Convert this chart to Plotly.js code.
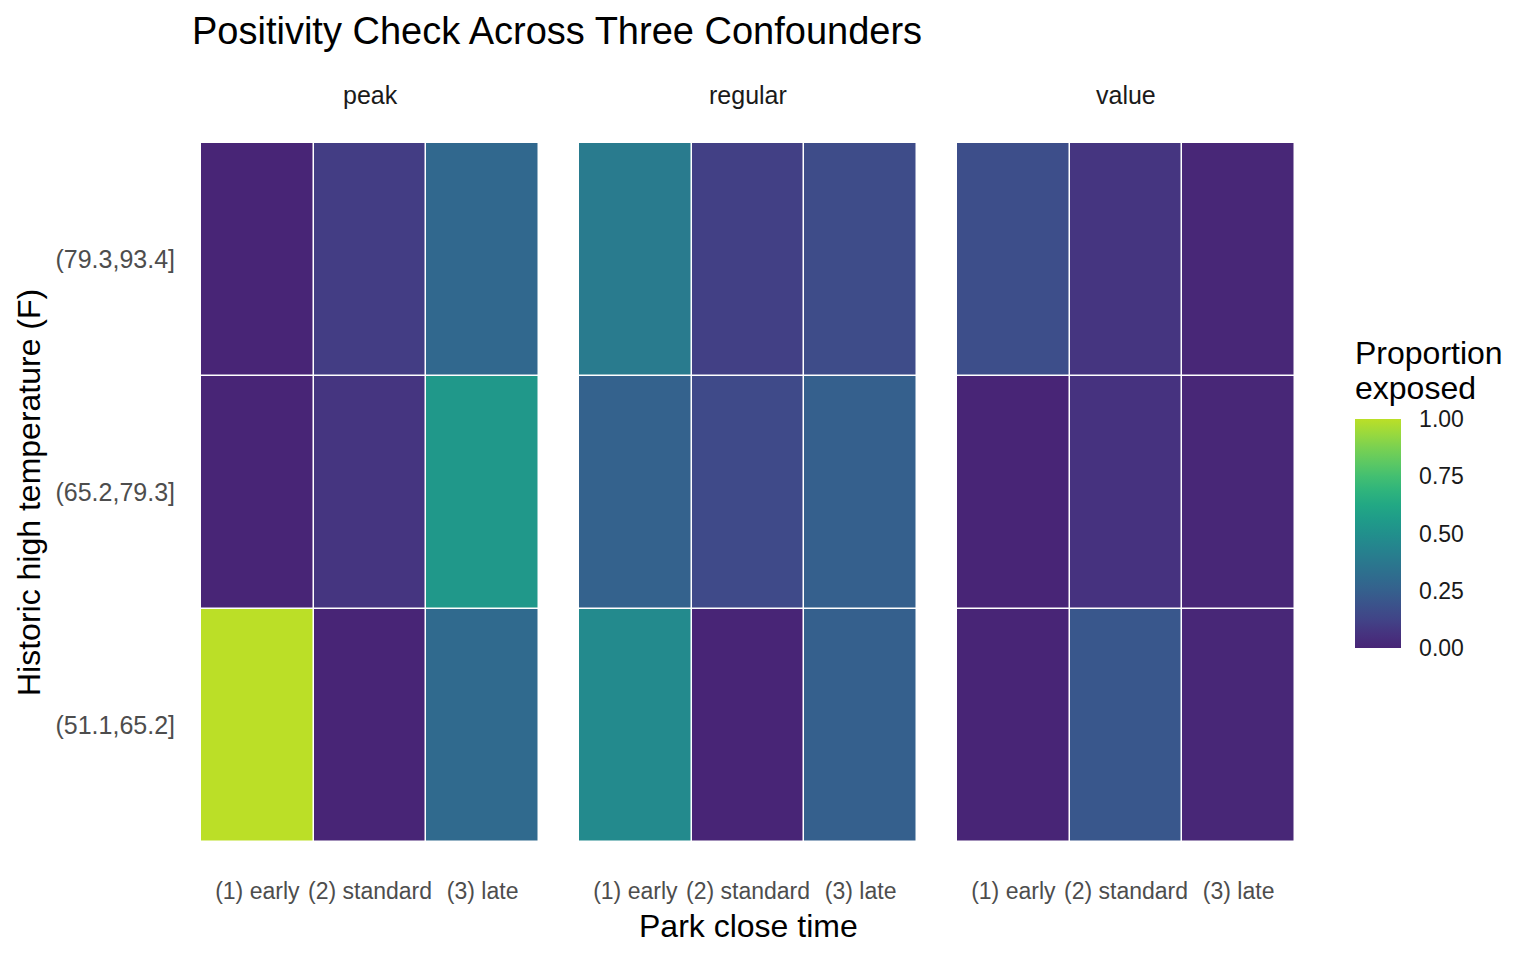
<!DOCTYPE html>
<html>
<head>
<meta charset="utf-8">
<script src="https://cdn.plot.ly/plotly-3.0.1.min.js"></script>
<style>html,body{margin:0;padding:0;background:#fff}#chart{width:1536px;height:960px}</style>
</head>
<body>
<div id="chart"></div>
<script>
// Data
const closeTimes = ["(1) early", "(2) standard", "(3) late"];
const tempBins = ["(51.1,65.2]", "(65.2,79.3]", "(79.3,93.4]"]; // bottom to top
const seasons = ["peak", "regular", "value"];
// proportion exposed, rows = tempBins (bottom→top), cols = closeTimes
const peakVals = [
  [1.00, 0.00, 0.30],
  [0.00, 0.07, 0.54],
  [0.00, 0.10, 0.29]
];
const regularVals = [
  [0.47, 0.00, 0.25],
  [0.26, 0.15, 0.25],
  [0.39, 0.11, 0.16]
];
const valueVals = [
  [0.00, 0.21, 0.01],
  [0.00, 0.06, 0.01],
  [0.17, 0.07, 0.01]
];
const panelVals = [peakVals, regularVals, valueVals];
const legendTicks = [0, 0.25, 0.5, 0.75, 1];
const legendTickText = ["0.00", "0.25", "0.50", "0.75", "1.00"];

const FONT = "Liberation Sans, Arial, Helvetica, sans-serif";
const W = 1536, H = 960;
const px = (x) => x / W;
const py = (y) => 1 - y / H;

// viridis from 0.1 to 0.9
const colorscale = [
  [0.0, "#482576"], [0.0625, "#46337F"], [0.125, "#414487"], [0.1875, "#3B528B"],
  [0.25, "#35608D"], [0.3125, "#2F6C8E"], [0.375, "#2A788E"], [0.4375, "#25848E"],
  [0.5, "#21908C"], [0.5625, "#1F9C89"], [0.625, "#22A884"], [0.6875, "#2FB47C"],
  [0.75, "#43BF71"], [0.8125, "#5EC962"], [0.875, "#7AD151"], [0.9375, "#9AD93D"],
  [1.0, "#BBDF27"]
];

const panelX = [[201, 539], [579, 917], [957, 1295]];
const yTop = 143, yBot = 842;
const bar = {x0: 1355, x1: 1401, y0: 419, y1: 648};

const traces = [];
const layout = {
  width: W, height: H,
  margin: {l: 0, r: 0, t: 0, b: 0, autoexpand: false},
  paper_bgcolor: "#fff", plot_bgcolor: "#fff",
  font: {family: FONT, color: "#1A1A1A"},
  showlegend: false,
  coloraxis: {
    colorscale: colorscale, cmin: 0, cmax: 1,
    colorbar: {
      x: px(bar.x0), xanchor: "left", xref: "container",
      y: py((bar.y0 + bar.y1) / 2), yanchor: "middle", yref: "container",
      len: bar.y1 - bar.y0, lenmode: "pixels",
      thickness: bar.x1 - bar.x0, thicknessmode: "pixels",
      outlinewidth: 0, xpad: 0, ypad: 0,
      ticks: "outside", ticklen: 14, tickcolor: "rgba(255,255,255,0)", tickwidth: 1,
      tickvals: legendTicks, ticktext: legendTickText,
      tickfont: {family: FONT, size: 23, color: "#1A1A1A"},
      title: {text: ""}
    }
  },
  shapes: [],
  annotations: [
    {text: "Positivity Check Across Three Confounders", x: px(190), y: py(31), xref: "paper", yref: "paper",
     xanchor: "left", yanchor: "middle", showarrow: false, font: {family: FONT, size: 38, color: "#000"}},
    {text: "Park close time", x: px(748), y: py(926), xref: "paper", yref: "paper",
     xanchor: "center", yanchor: "middle", showarrow: false, font: {family: FONT, size: 32, color: "#000"}},
    {text: "Historic high temperature (F)", x: px(29), y: py(493), xref: "paper", yref: "paper",
     xanchor: "center", yanchor: "middle", textangle: -90, showarrow: false, font: {family: FONT, size: 32, color: "#000"}},
    {text: "Proportion", x: px(bar.x0 - 2), y: py(353), xref: "paper", yref: "paper",
     xanchor: "left", yanchor: "middle", showarrow: false, font: {family: FONT, size: 32, color: "#000"}},
    {text: "exposed", x: px(bar.x0 - 2), y: py(388), xref: "paper", yref: "paper",
     xanchor: "left", yanchor: "middle", showarrow: false, font: {family: FONT, size: 32, color: "#000"}}
  ]
};

// white tick marks inside the colour bar (ggplot style)
legendTicks.forEach((v) => {
  const yy = py(bar.y1 - v * (bar.y1 - bar.y0));
  [[bar.x0, bar.x0 + 9], [bar.x1 - 9, bar.x1]].forEach(([a, b]) => {
    layout.shapes.push({type: "line", xref: "paper", yref: "paper", x0: px(a), x1: px(b), y0: yy, y1: yy,
      line: {color: "#ffffff", width: 1.2}, layer: "above"});
  });
});

seasons.forEach((s, i) => {
  const xa = i === 0 ? "x" : "x" + (i + 1);
  const xaKey = i === 0 ? "xaxis" : "xaxis" + (i + 1);
  traces.push({
    type: "heatmap",
    x: closeTimes, y: tempBins, z: panelVals[i],
    xaxis: xa, yaxis: "y",
    coloraxis: "coloraxis",
    xgap: 1.5, ygap: 1.5,
    hovertemplate: s + "<br>%{x}<br>%{y}<br>%{z:.2f}<extra></extra>"
  });
  layout[xaKey] = {
    domain: [px(panelX[i][0]), px(panelX[i][1])],
    anchor: "y", type: "category", range: [-0.5, 2.5],
    showgrid: false, zeroline: false, showline: false, ticks: "",
    ticklabelstandoff: 33,
    tickfont: {family: FONT, size: 23, color: "#4D4D4D"}
  };
  layout.annotations.push({
    text: s, x: (px(panelX[i][0]) + px(panelX[i][1])) / 2, y: py(95),
    xref: "paper", yref: "paper", xanchor: "center", yanchor: "middle",
    showarrow: false, font: {family: FONT, size: 25, color: "#1A1A1A"}
  });
});

layout.yaxis = {
  domain: [py(yBot), py(yTop)], anchor: "x", type: "category", range: [-0.5, 2.5],
  showgrid: false, zeroline: false, showline: false, ticks: "",
  ticklabelstandoff: 25,
  tickfont: {family: FONT, size: 25, color: "#4D4D4D"}
};

Plotly.newPlot("chart", traces, layout, {displayModeBar: false, staticPlot: true});
</script>
</body>
</html>
